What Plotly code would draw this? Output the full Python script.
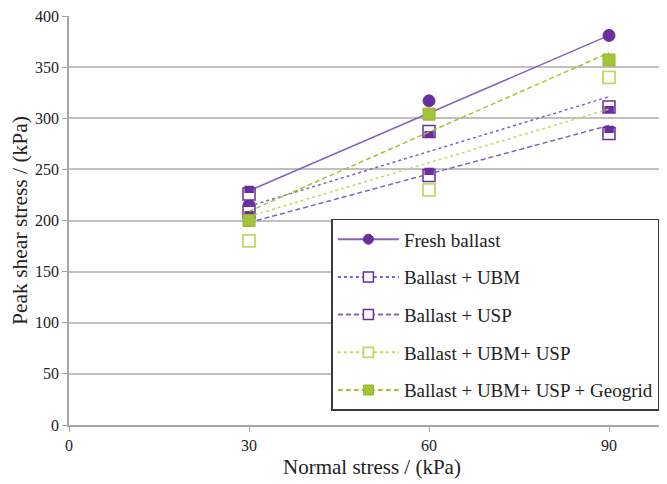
import plotly.graph_objects as go

# values
normal_stress = [30, 60, 90]
fresh = [215, 317, 381]
ubm = [208, 287, 311]
usp = [226, 244, 285]
ubm_usp = [180, 230, 340]
geogrid = [200, 304, 357]

# trend line values at 30 and 90 kPa
trend_x = [30, 90]
fresh_trend = [229, 381]
ubm_trend = [214, 321]
usp_trend = [198, 293]
ubm_usp_trend = [204, 309]
geogrid_trend = [209, 364]

names = ['Fresh ballast', 'Ballast + UBM', 'Ballast + USP',
         'Ballast + UBM+ USP', 'Ballast + UBM+ USP + Geogrid']

PURPLE = '#6a2e9e'
PURPLE_LINE = '#8462bd'
GREEN = '#a3c43a'
GREEN_LIGHT = '#c2d966'
SERIF = 'Liberation Serif'
SHORT_DASH = '5px,3px'

fig = go.Figure()

# style per series: (points, trend, line colour, dash, marker dict, half-block glyph)
series = [
    (fresh, fresh_trend, PURPLE_LINE, 'solid',
     dict(symbol='circle', size=12, color=PURPLE, line=dict(color=PURPLE, width=1)), None),
    (ubm, ubm_trend, PURPLE_LINE, 'dot',
     dict(symbol='square', size=12, color='white', line=dict(color=PURPLE, width=1.5)), '\u2584'),
    (usp, usp_trend, PURPLE_LINE, SHORT_DASH,
     dict(symbol='square', size=12, color='white', line=dict(color=PURPLE, width=1.5)), '\u2580'),
    (ubm_usp, ubm_usp_trend, GREEN_LIGHT, 'dot',
     dict(symbol='square', size=12, color='white', line=dict(color=GREEN_LIGHT, width=1.8)), None),
    (geogrid, geogrid_trend, GREEN, SHORT_DASH,
     dict(symbol='square', size=12, color=GREEN, line=dict(color='#93b52c', width=1)), None),
]

for i, (pts, tr, lcol, dash, mk, glyph) in enumerate(series):
    grp = 'g%d' % i
    # trend line
    fig.add_trace(go.Scatter(x=trend_x, y=tr, mode='lines', legendgroup=grp, showlegend=False,
                             line=dict(color=lcol, width=1.5, dash=dash), hoverinfo='skip'))
    # data markers
    if glyph:
        fig.add_trace(go.Scatter(x=normal_stress, y=pts, mode='markers+text', legendgroup=grp,
                                 showlegend=False, marker=mk, text=[glyph] * len(pts),
                                 textposition='middle center',
                                 textfont=dict(family='DejaVu Sans', size=12, color=PURPLE)))
    else:
        fig.add_trace(go.Scatter(x=normal_stress, y=pts, mode='markers', legendgroup=grp,
                                 showlegend=False, marker=mk))
    # legend entry only
    fig.add_trace(go.Scatter(x=[None], y=[None], mode='lines+markers', name=names[i],
                             legendgroup=grp, line=dict(color=lcol, width=2, dash=dash),
                             marker=dict(mk, size=10)))

# the page body adds an 8px offset, margins compensate for it
fig.update_layout(
    width=667, height=484,
    margin=dict(l=61, r=0, t=8, b=67, autoexpand=False),
    paper_bgcolor='white', plot_bgcolor='white',
    font=dict(family=SERIF, size=16, color='#222222'),
    showlegend=True,
    legend=dict(x=0.433, y=0.504, xanchor='left', yanchor='top',
                bgcolor='white', bordercolor='#3a3a3a', borderwidth=1.5,
                font=dict(family=SERIF, size=19, color='#222222'),
                tracegroupgap=10, itemwidth=61),
    xaxis=dict(range=[0, 101], tickvals=[0, 30, 60, 90], showgrid=False, zeroline=False,
               showline=True, linecolor='#a6a6a6', linewidth=1.5, automargin=False,
               ticks='outside', ticklen=5, tickcolor='#a6a6a6',
               tickfont=dict(family=SERIF, size=16, color='#222222'),
               title=dict(text='Normal stress / (kPa)', font=dict(family=SERIF, size=21),
                          standoff=6)),
    yaxis=dict(range=[0, 400], dtick=50, showgrid=True, gridcolor='#c0c0c0', gridwidth=1.5,
               zeroline=False, showline=True, linecolor='#a6a6a6', linewidth=1.5, automargin=False,
               ticks='outside', ticklen=5, tickcolor='#a6a6a6', ticklabeloverflow='allow',
               tickfont=dict(family=SERIF, size=16, color='#222222'),
               title=dict(text='Peak shear stress / (kPa)', font=dict(family=SERIF, size=21.5),
                          standoff=12)),
)

fig.write_html('out.html')
